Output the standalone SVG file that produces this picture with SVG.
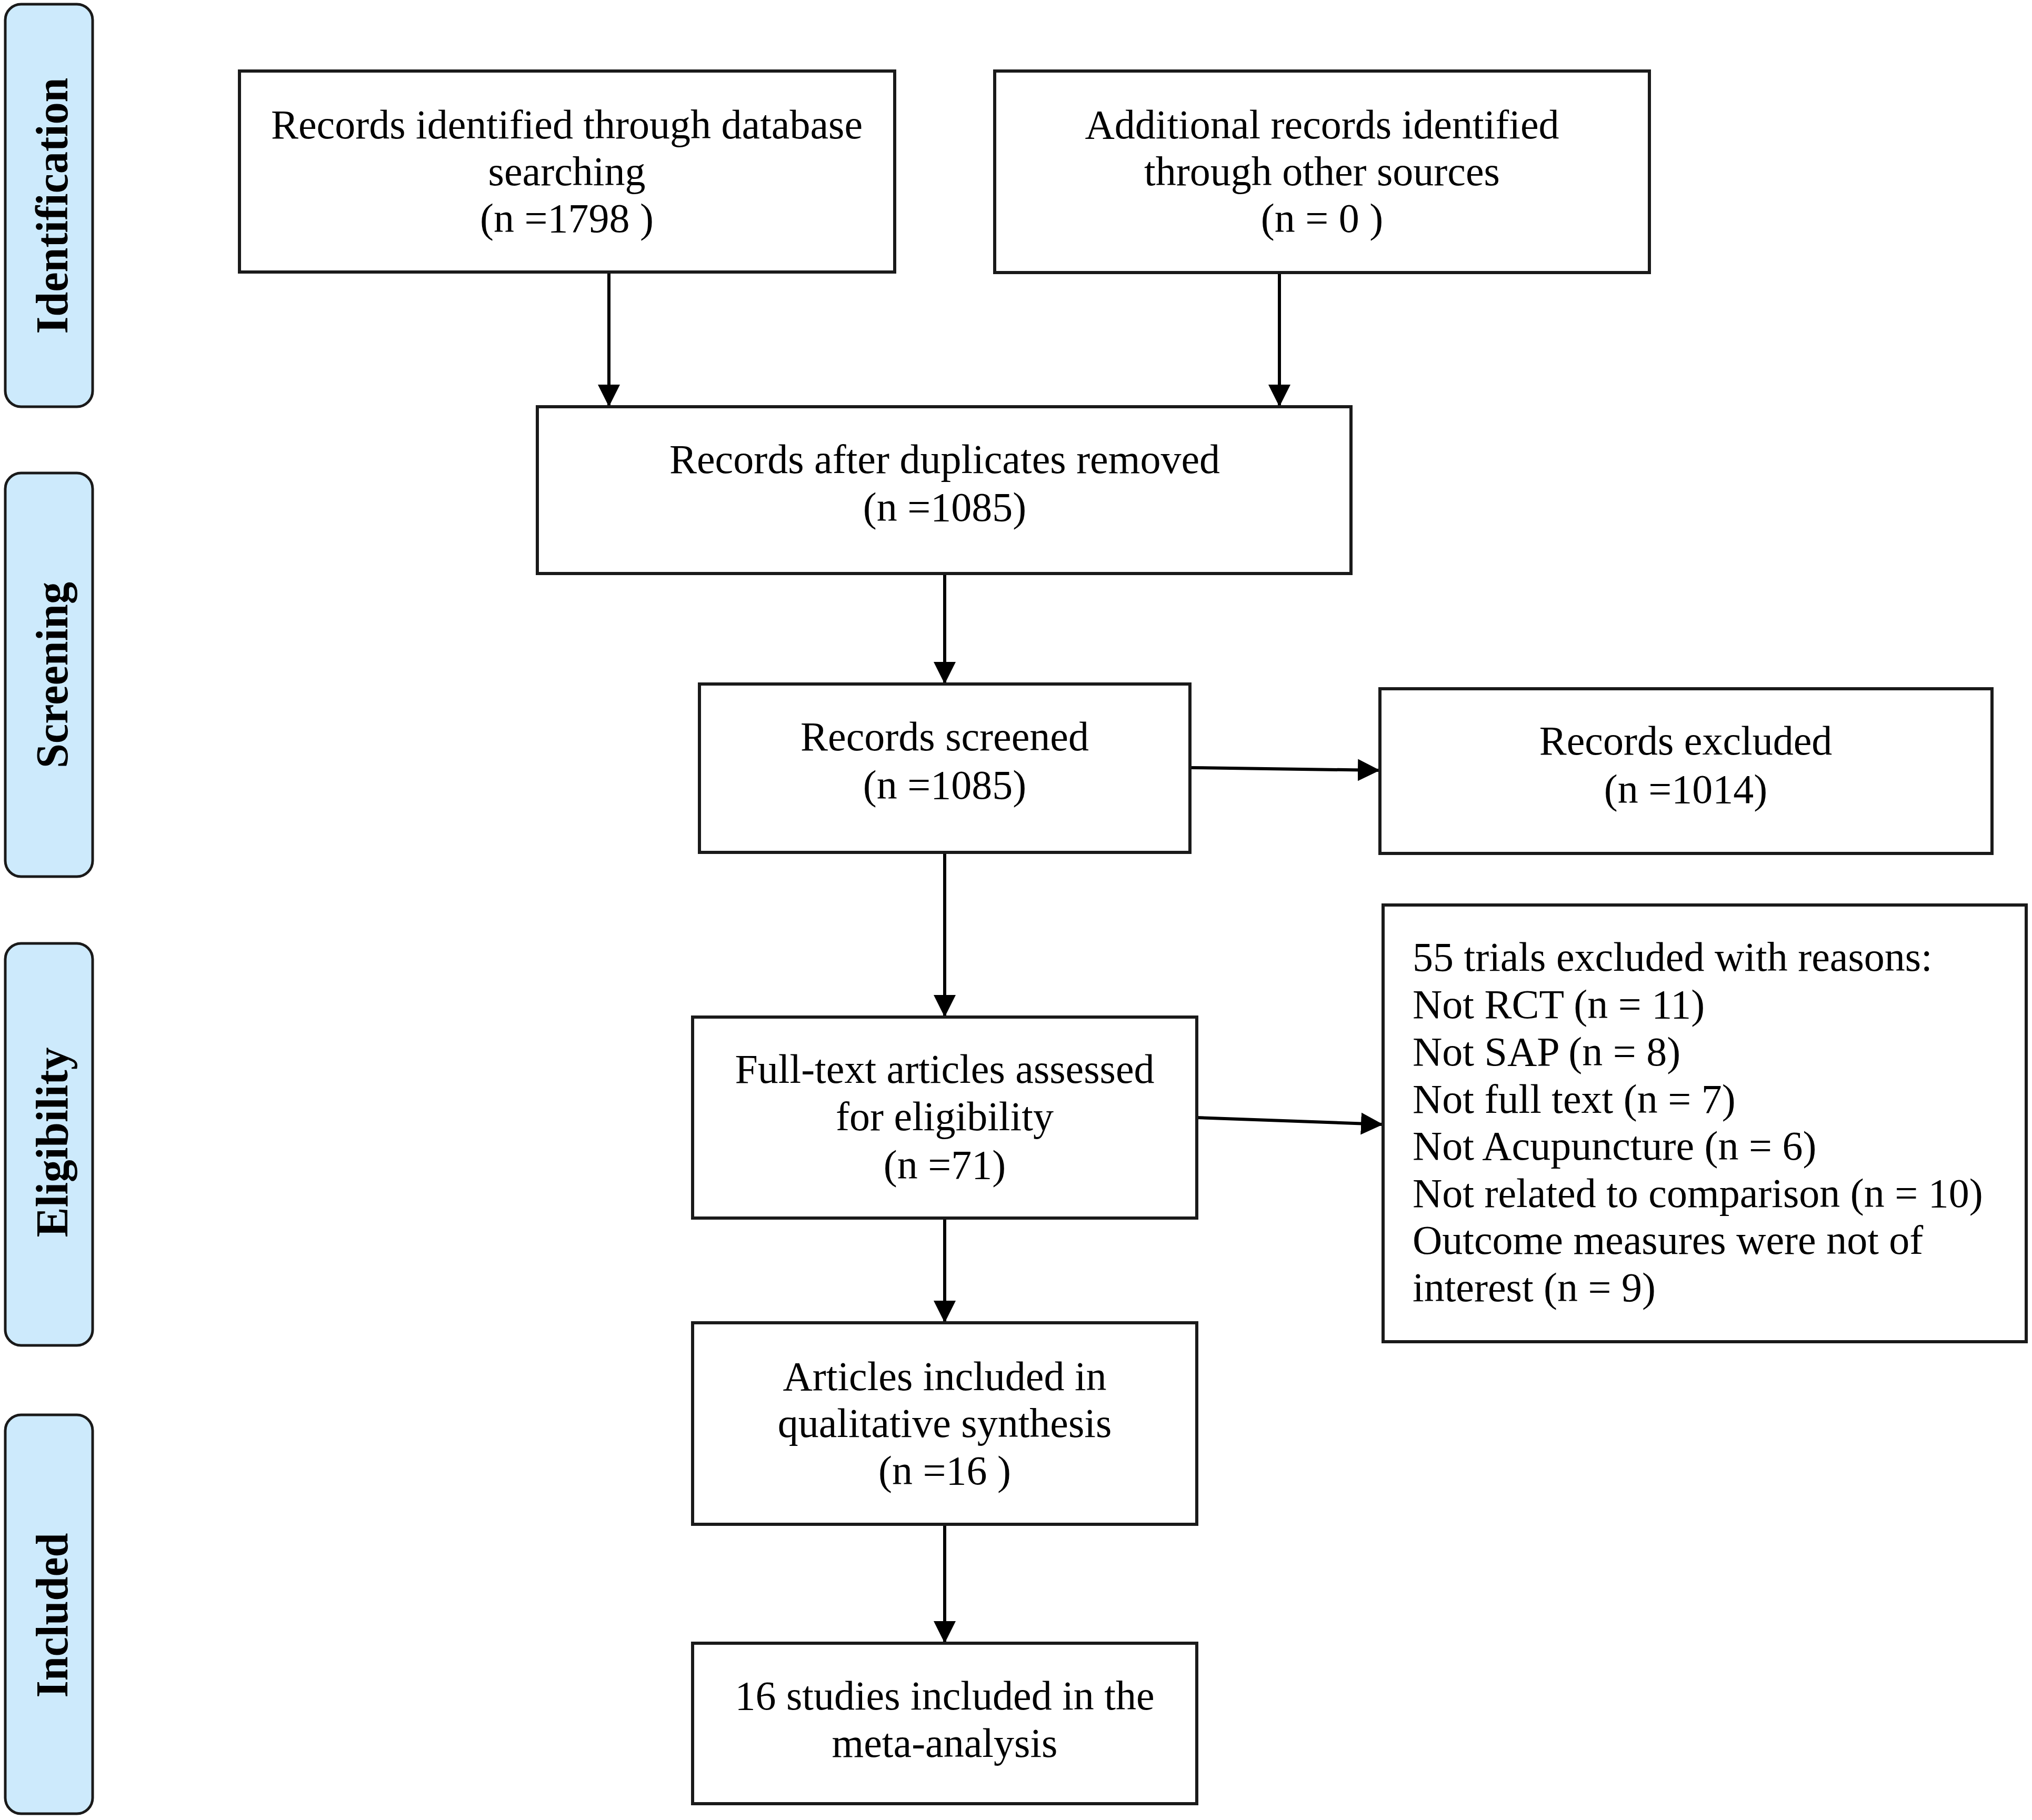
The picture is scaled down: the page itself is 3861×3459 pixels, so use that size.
<svg xmlns="http://www.w3.org/2000/svg" width="3861" height="3459" viewBox="0 0 3861 3459">
<style>
  .side { fill: #cdeafc; stroke: #1a1a1a; stroke-width: 5; }
  .sidetxt { font-family: "Liberation Serif", "Times New Roman", serif; font-weight: bold; font-size: 86px; fill: #000; text-anchor: middle; }
  .box { fill: #fff; stroke: #1a1a1a; stroke-width: 6; }
  .t { font-family: "Liberation Serif", "Times New Roman", serif; font-size: 78px; fill: #000; text-anchor: middle; }
  .tl { font-family: "Liberation Serif", "Times New Roman", serif; font-size: 78px; fill: #000; }
  .conn { stroke: #000; stroke-width: 6; fill: none; marker-end: url(#arr); }
</style>
<defs>
  <marker id="arr" markerUnits="userSpaceOnUse" markerWidth="46" markerHeight="46" refX="42" refY="21" orient="auto" viewBox="0 0 46 46">
    <path d="M0,0 L42,21 L0,42 Z" fill="#000"/>
  </marker>
</defs>
<rect width="3861" height="3459" fill="#fff"/>

<g id="phase-identification">
  <rect class="side" x="10" y="8" width="166" height="765" rx="30" ry="30"/>
  <text class="sidetxt" transform="translate(128,391) rotate(-90)" textLength="487" lengthAdjust="spacingAndGlyphs">Identification</text>
</g>
<g id="phase-screening">
  <rect class="side" x="10" y="899" width="166" height="767" rx="30" ry="30"/>
  <text class="sidetxt" transform="translate(128,1283) rotate(-90)" textLength="354" lengthAdjust="spacingAndGlyphs">Screening</text>
</g>
<g id="phase-eligibility">
  <rect class="side" x="10" y="1793" width="166" height="764" rx="30" ry="30"/>
  <text class="sidetxt" transform="translate(128,2171) rotate(-90)" textLength="361" lengthAdjust="spacingAndGlyphs">Eligibility</text>
</g>
<g id="phase-included">
  <rect class="side" x="10" y="2689" width="166" height="758" rx="30" ry="30"/>
  <text class="sidetxt" transform="translate(128,3070) rotate(-90)" textLength="313" lengthAdjust="spacingAndGlyphs">Included</text>
</g>

<g id="connectors">
  <line class="conn" x1="1157" y1="517" x2="1157" y2="773"/>
  <line class="conn" x1="2431" y1="518" x2="2431" y2="773"/>
  <line class="conn" x1="1795" y1="1090" x2="1795" y2="1300"/>
  <line class="conn" x1="1795" y1="1620" x2="1795" y2="1933"/>
  <line class="conn" x1="1795" y1="2315" x2="1795" y2="2514"/>
  <line class="conn" x1="1795" y1="2897" x2="1795" y2="3123"/>
  <line class="conn" x1="2261" y1="1459" x2="2622" y2="1464"/>
  <line class="conn" x1="2274" y1="2124" x2="2628" y2="2137"/>
</g>

<g id="node-database">
  <rect class="box" x="455" y="135" width="1245" height="382"/>
  <text class="t" x="1077" y="263">Records identified through database</text>
  <text class="t" x="1077" y="352">searching</text>
  <text class="t" x="1077" y="441" xml:space="preserve">(n =1798 )</text>
</g>
<g id="node-other">
  <rect class="box" x="1890" y="135" width="1244" height="383"/>
  <text class="t" x="2512" y="263">Additional records identified</text>
  <text class="t" x="2512" y="352">through other sources</text>
  <text class="t" x="2512" y="441" xml:space="preserve">(n = 0 )</text>
</g>
<g id="node-duplicates">
  <rect class="box" x="1021" y="773" width="1546" height="317"/>
  <text class="t" x="1795" y="899">Records after duplicates removed</text>
  <text class="t" x="1795" y="990">(n =1085)</text>
</g>
<g id="node-screened">
  <rect class="box" x="1329" y="1300" width="932" height="320"/>
  <text class="t" x="1795" y="1426">Records screened</text>
  <text class="t" x="1795" y="1518">(n =1085)</text>
</g>
<g id="node-excluded">
  <rect class="box" x="2622" y="1309" width="1163" height="313"/>
  <text class="t" x="3203" y="1434">Records excluded</text>
  <text class="t" x="3203" y="1526">(n =1014)</text>
</g>
<g id="node-fulltext">
  <rect class="box" x="1316" y="1933" width="958" height="382"/>
  <text class="t" x="1795" y="2058">Full-text articles assessed</text>
  <text class="t" x="1795" y="2148">for eligibility</text>
  <text class="t" x="1795" y="2240">(n =71)</text>
</g>
<g id="node-reasons">
  <rect class="box" x="2628" y="1720" width="1222" height="830"/>
  <text class="tl" x="2684" y="1845">55 trials excluded with reasons:</text>
  <text class="tl" x="2684" y="1935">Not RCT (n = 11)</text>
  <text class="tl" x="2684" y="2025">Not SAP (n = 8)</text>
  <text class="tl" x="2684" y="2115">Not full text (n = 7)</text>
  <text class="tl" x="2684" y="2204">Not Acupuncture (n = 6)</text>
  <text class="tl" x="2684" y="2294">Not related to comparison (n = 10)</text>
  <text class="tl" x="2684" y="2383">Outcome measures were not of</text>
  <text class="tl" x="2684" y="2473">interest (n = 9)</text>
</g>
<g id="node-qualitative">
  <rect class="box" x="1316" y="2514" width="958" height="383"/>
  <text class="t" x="1795" y="2642">Articles included in</text>
  <text class="t" x="1795" y="2731">qualitative synthesis</text>
  <text class="t" x="1795" y="2821" xml:space="preserve">(n =16 )</text>
</g>
<g id="node-meta">
  <rect class="box" x="1316" y="3123" width="958" height="305"/>
  <text class="t" x="1795" y="3249">16 studies included in the</text>
  <text class="t" x="1795" y="3339">meta-analysis</text>
</g>
</svg>
